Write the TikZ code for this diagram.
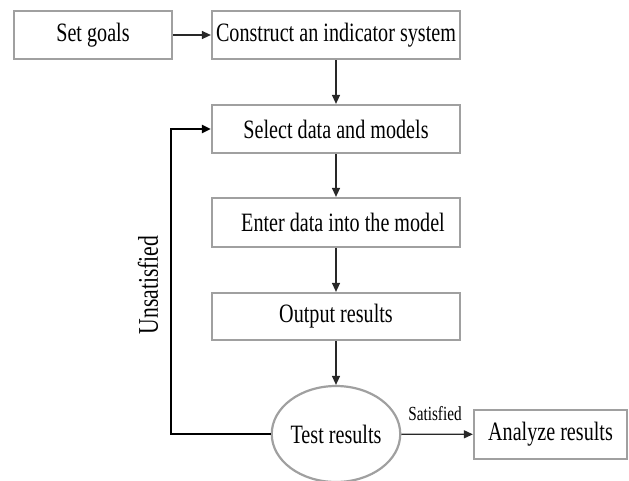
\documentclass[tikz,border=0pt]{standalone}
\usepackage{fontspec}
\setmainfont{Liberation Serif}
\newfontfamily\condfont[FakeStretch=0.76]{Liberation Serif}
\usetikzlibrary{arrows.meta,shapes.geometric}
\definecolor{boxgray}{RGB}{160,160,160}
\definecolor{arrowgray}{RGB}{40,40,40}
\tikzset{
  stepbox/.style={draw=boxgray, line width=2.2pt, rectangle, inner sep=0pt,
    minimum height=48pt, font=\condfont\fontsize{26.5}{30}\selectfont, text=black},
  testshape/.style={draw=boxgray, line width=2.2pt, ellipse, inner sep=0pt,
    minimum width=124pt, minimum height=96pt, font=\condfont\fontsize{26.5}{30}\selectfont},
  flow/.style={draw=arrowgray, line width=1.3pt, -{Triangle[length=9pt,width=8pt]}},
  backflow/.style={draw=black, line width=2pt, -{Triangle[length=9pt,width=8pt]}},
  lbl/.style={font=\condfont\fontsize{20}{23}\selectfont, inner sep=0pt}
}
\begin{document}
\begin{tikzpicture}[x=1pt,y=-1pt]
\useasboundingbox (0,0) rectangle (629,480);
\node[stepbox, minimum width=158pt] (goals) at (93,35) {Set goals};
\node[stepbox, minimum width=248pt] (construct) at (336,35) {Construct an indicator system};
\node[stepbox, minimum width=248pt] (select) at (336,129) {Select data and models};
\node[stepbox, minimum width=248pt, minimum height=49pt] (enter) at (336,222.5) {\hspace*{14pt}Enter data into the model};
\node[stepbox, minimum width=248pt, minimum height=47pt] (output) at (336,316.5) {Output results};
\node[testshape] (test) at (336,434) {Test results};
\node[stepbox, minimum width=153pt, minimum height=49pt] (analyze) at (550.5,434.5) {Analyze results};
\coordinate (c1) at (171,434);
\coordinate (c2) at (171,129);
\draw[flow] (goals) -- (construct);
\draw[flow] (construct) -- (select);
\draw[flow] (select) -- (enter);
\draw[flow] (enter) -- (output);
\draw[flow] (output) -- (test);
\draw[flow] (test) -- (analyze);
\draw[backflow] (test.west) -- (c1) -- (c2) -- (select.west);
\node[lbl] (sat) at (435,414) {Satisfied};
\node[lbl, font=\condfont\fontsize{28.5}{32}\selectfont, rotate=90] (unsat) at (148,285) {Unsatisfied};
\end{tikzpicture}
\end{document}
